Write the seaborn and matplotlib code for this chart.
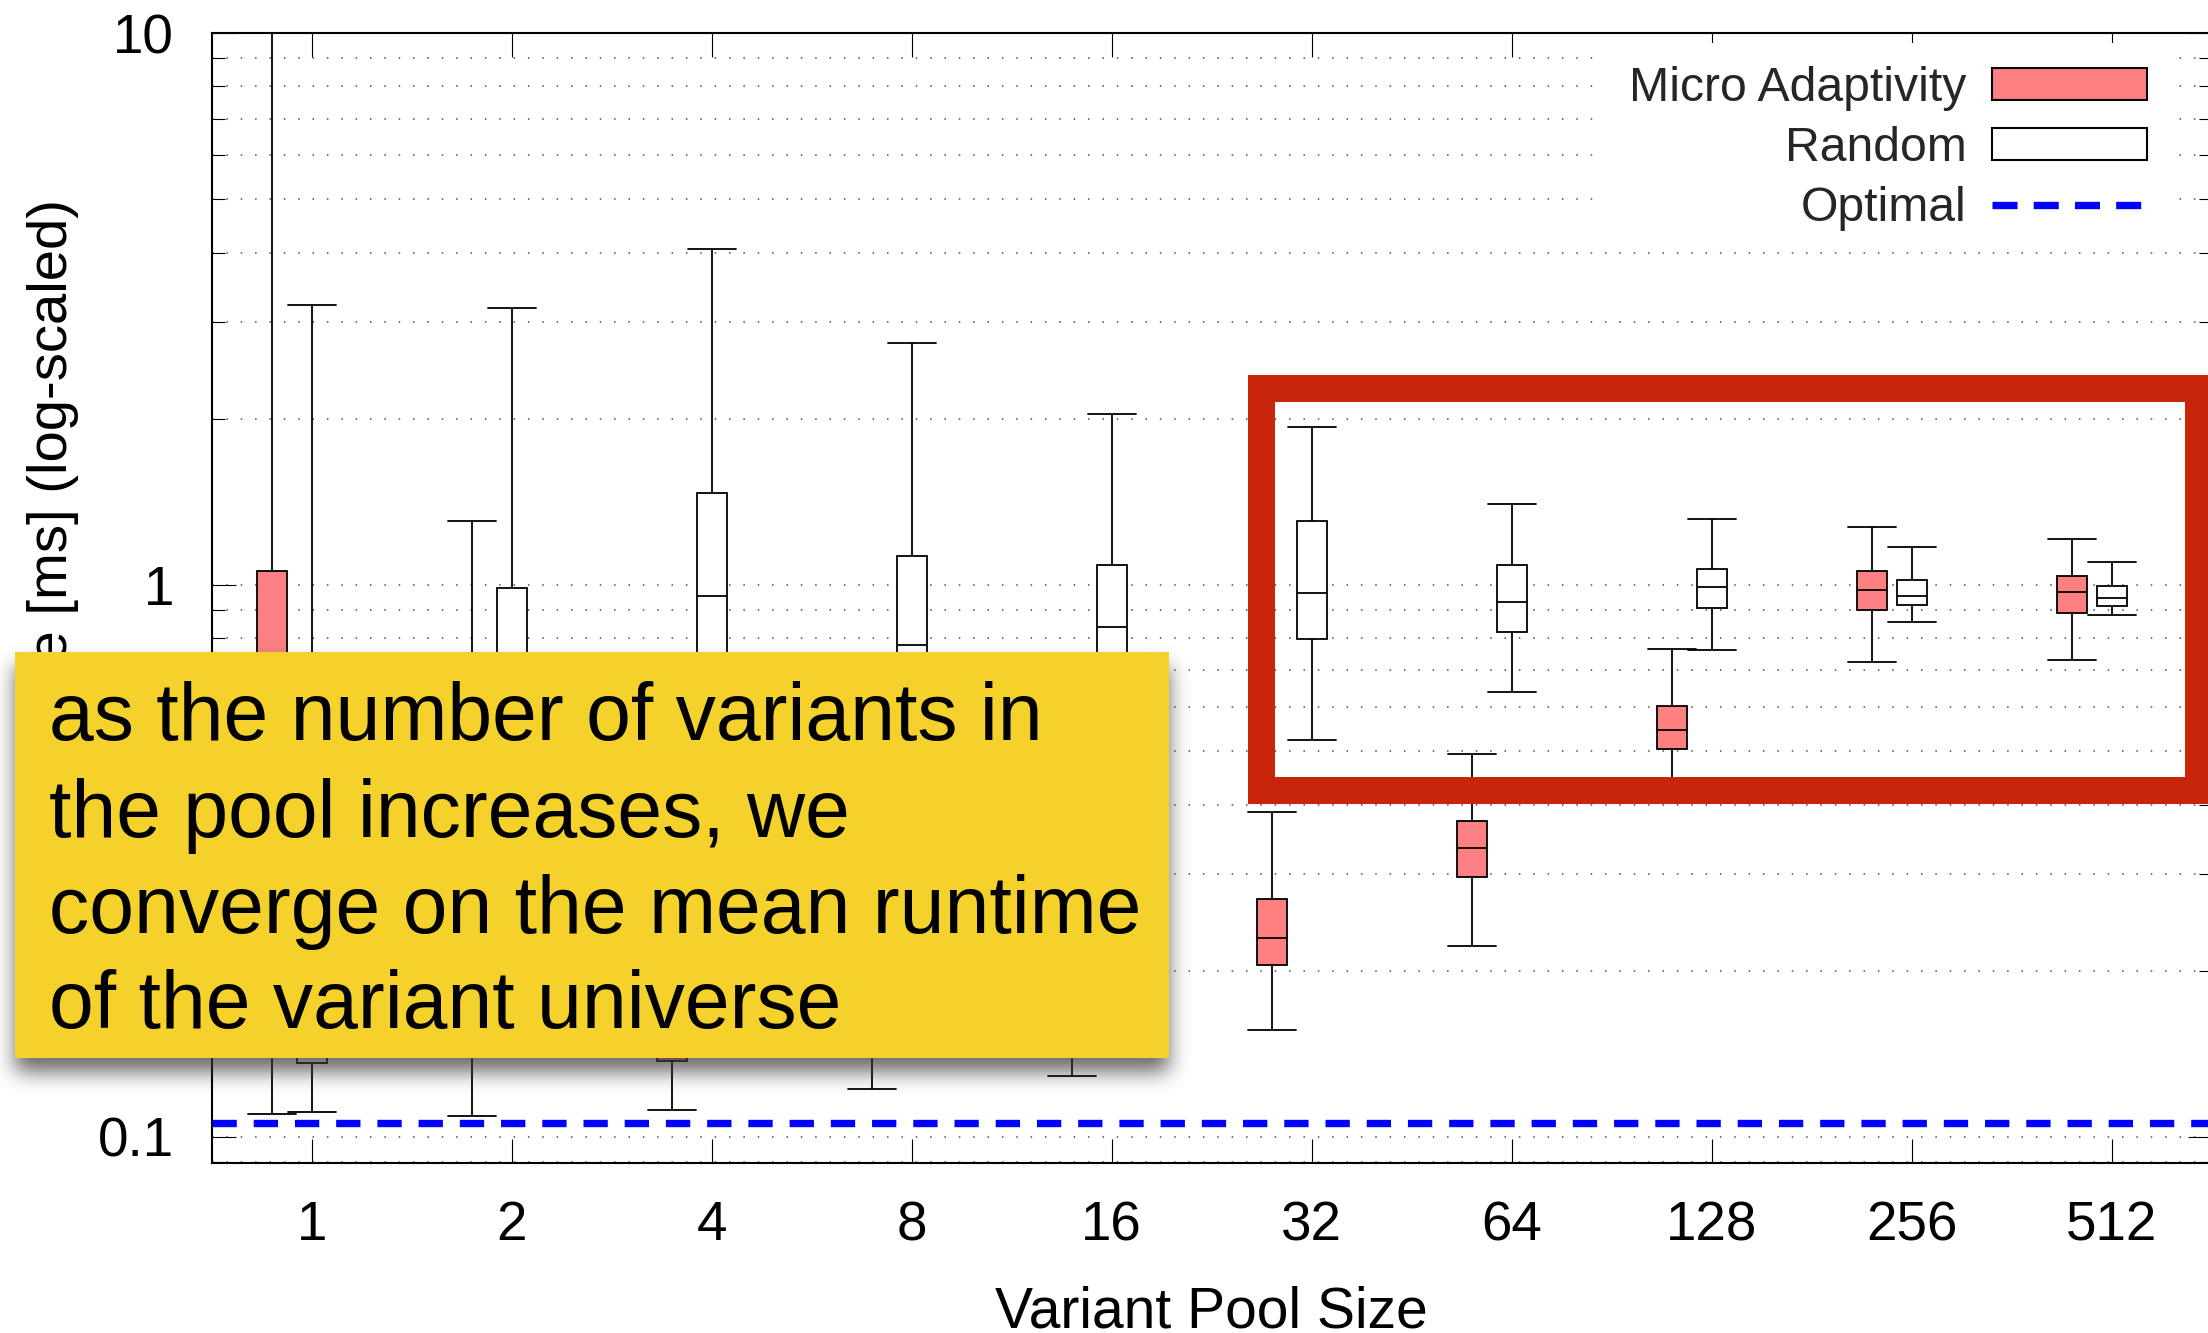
import numpy as np
import pandas as pd
import matplotlib
matplotlib.use("Agg")
import matplotlib.pyplot as plt
from matplotlib.patches import Rectangle, Patch
from matplotlib.lines import Line2D
from matplotlib.ticker import FixedLocator, LogLocator, NullFormatter, NullLocator
import seaborn as sns

# ---------------------------------------------------------------- data
pool_sizes = ["1", "2", "4", "8", "16", "32", "64", "128", "256", "512"]

# five-number summaries of the runtime (ms) per pool size
micro_low = [0.110, 0.109, 0.112, 0.122, 0.129, 0.156, 0.222, 0.425, 0.725, 0.730]
micro_q1 = [0.155, 0.150, 0.1375, 0.145, 0.150, 0.205, 0.296, 0.505, 0.900, 0.890]
micro_med = [0.300, 0.200, 0.170, 0.170, 0.180, 0.229, 0.334, 0.545, 0.979, 0.970]
micro_q3 = [1.060, 0.350, 0.260, 0.220, 0.220, 0.270, 0.374, 0.604, 1.060, 1.040]
micro_high = [15.0, 1.306, 0.600, 0.450, 0.350, 0.388, 0.494, 0.767, 1.274, 1.213]

random_low = [0.111, 0.160, 0.170, 0.180, 0.250, 0.524, 0.641, 0.763, 0.856, 0.884]
random_q1 = [0.136, 0.300, 0.450, 0.450, 0.550, 0.799, 0.823, 0.908, 0.921, 0.916]
random_med = [0.350, 0.550, 0.955, 0.778, 0.839, 0.966, 0.932, 0.993, 0.956, 0.947]
random_q3 = [0.650, 0.986, 1.470, 1.130, 1.087, 1.306, 1.088, 1.067, 1.020, 0.996]
random_high = [3.21, 3.18, 4.06, 2.74, 2.04, 1.935, 1.400, 1.319, 1.172, 1.101]

optimal_ms = 0.1058

series_names = ["Micro Adaptivity", "Random"]
note_lines = [
    "as the number of variants in",
    "the pool increases, we",
    "converge on the mean runtime",
    "of the variant universe",
]

# ---------------------------------------------------------------- table
summaries = {
    "Micro Adaptivity": (micro_low, micro_q1, micro_med, micro_q3, micro_high),
    "Random": (random_low, random_q1, random_med, random_q3, random_high),
}
offsets = {"Micro Adaptivity": -0.2, "Random": 0.0}
rows = []
for name in series_names:
    cols = summaries[name]
    for i in range(len(pool_sizes)):
        for v in (c[i] for c in cols):
            rows.append({"pos": i + offsets[name], "runtime": v, "series": name})
df = pd.DataFrame(rows)

# ---------------------------------------------------------------- figure
W, H, DPI = 2208, 1333, 100
sns.set_theme(style="ticks")
plt.rcParams["font.family"] = ["Liberation Sans", "DejaVu Sans"]
plt.rcParams["axes.linewidth"] = 1.5

fig = plt.figure(figsize=(W / DPI, H / DPI), dpi=DPI)
ax = fig.add_axes([211.7 / W, 1 - 1163 / H, 2000 / W, 1130 / H])

pink = "#FF8080"
sns.boxplot(
    data=df, x="pos", y="runtime", hue="series", hue_order=series_names,
    palette={"Micro Adaptivity": pink, "Random": "white"},
    native_scale=True, log_scale=(False, True), dodge=False,
    width=0.75, whis=(0, 100), saturation=1, linecolor="black",
    linewidth=1.3, fliersize=0, capwidths=0.24, legend=False, ax=ax,
)

ax.axhline(optimal_ms, color="#0000FF", lw=5.3, linestyle=(0, (3.3, 2.3)),
           dash_capstyle="butt", zorder=3)

# axes, ticks, grid
ax.set_xlim(-0.5, 9.5)
ax.set_ylim(0.0897, 10)
ax.set_xticks(range(len(pool_sizes)))
ax.set_xticklabels(pool_sizes)
ax.xaxis.set_minor_locator(NullLocator())
ax.yaxis.set_major_locator(FixedLocator([0.1, 1, 10]))
ax.set_yticklabels(["0.1", "1", "10"])
ax.yaxis.set_minor_locator(LogLocator(base=10, subs=np.arange(2, 10)))
ax.yaxis.set_minor_formatter(NullFormatter())
ax.set_xlabel("")
ax.set_ylabel("")
ax.set_axisbelow(True)
ax.grid(True, which="both", axis="y", color="0.3",
        linestyle=(0, (1, 8.4)), linewidth=1.1)
ax.grid(False, axis="x")
ax.tick_params(axis="both", which="major", direction="in", length=17,
               width=0.8, top=True, right=True, labelsize=39.5, pad=27,
               color="black", labelcolor="black")
ax.tick_params(axis="y", which="minor", direction="in", length=9.5,
               width=0.8, left=True, right=True, color="black")
for s in ax.spines.values():
    s.set_visible(True)
    s.set_color("black")
    s.set_linewidth(1.5)

# white backdrop behind the key
ax.add_patch(Rectangle((1599 / W, 1 - 225 / H), 580 / W, 182 / H,
                       transform=fig.transFigure, facecolor="white",
                       edgecolor="none", zorder=0.9, clip_on=False))
handles = [
    Patch(facecolor=pink, edgecolor="black", linewidth=1.5),
    Patch(facecolor="white", edgecolor="black", linewidth=1.5),
    Line2D([], [], color="#0000FF", lw=5.3, linestyle=(0, (3.4, 2.2)),
           dash_capstyle="butt"),
]
ax.legend(handles, series_names + ["Optimal"], loc="upper right",
          bbox_to_anchor=(2147 / W, 1 - 66 / H), bbox_transform=fig.transFigure,
          frameon=False, markerfirst=False, fontsize=34.7, handlelength=3.22,
          handleheight=0.62, handletextpad=0.52, labelspacing=0.31,
          borderpad=0, borderaxespad=0)

# axis titles
fig.text(67 / W, 1 - 599 / H, "Execution time [ms] (log-scaled)", rotation=90,
         rotation_mode="anchor", ha="center", va="baseline", fontsize=40.5,
         color="black", zorder=5)
fig.text(1211.7 / W, 1 - 1327 / H, "Variant Pool Size", ha="center",
         va="baseline", fontsize=41, color="black", zorder=5)

# highlight frame around the large pools
fig.add_artist(Rectangle((1260.8 / W, 1 - 790 / H), 936.9 / W, 401.6 / H,
                         transform=fig.transFigure, facecolor="none",
                         edgecolor="#C8250A", linewidth=27 * 72 / DPI,
                         joinstyle="miter", zorder=19))

# call-out note with a soft drop shadow
bx0, by0, bx1, by1 = 15, 652, 1169, 1058
pad, sigma, dy = 40, 10, 14
sh_w, sh_h = bx1 - bx0 + 2 * pad, by1 - by0 + 2 * pad
mask = np.zeros((sh_h, sh_w))
mask[pad:pad + (by1 - by0), pad:pad + (bx1 - bx0)] = 1.0
k = np.exp(-0.5 * (np.arange(-3 * sigma, 3 * sigma + 1) / sigma) ** 2)
k /= k.sum()
mask = np.apply_along_axis(lambda r: np.convolve(r, k, mode="same"), 1, mask)
mask = np.apply_along_axis(lambda c: np.convolve(c, k, mode="same"), 0, mask)
shadow = np.zeros((sh_h, sh_w, 4))
shadow[..., :3] = 0.22
shadow[..., 3] = 0.75 * mask
top_img = by0 - pad + dy
fig.figimage(shadow, xo=bx0 - pad, yo=H - (top_img + sh_h), origin="upper",
             zorder=20)
fig.add_artist(Rectangle((bx0 / W, 1 - by1 / H), (bx1 - bx0) / W, (by1 - by0) / H,
                         transform=fig.transFigure, facecolor="#F4D22B",
                         edgecolor="none", zorder=21))
for line, base in zip(note_lines, [740, 836.7, 933, 1028]):
    fig.text(49 / W, 1 - base / H, line, fontsize=58, ha="left", va="baseline",
             color="black", zorder=22)

fig.savefig("out.png", dpi=DPI)
